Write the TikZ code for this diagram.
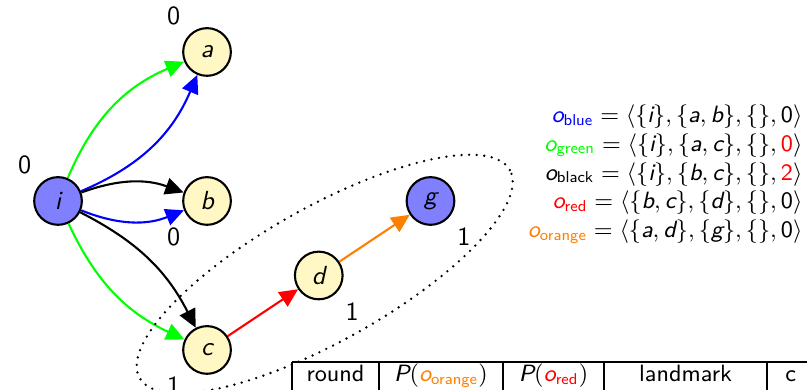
\documentclass[tikz,border=0pt]{standalone}
\usepackage{amsmath}
\usetikzlibrary{arrows.meta,positioning}
\definecolor{stateyellow}{RGB}{255,248,196}
\definecolor{stateblue}{RGB}{128,128,255}
\definecolor{opgreen}{RGB}{0,255,0}
\definecolor{oporange}{RGB}{255,128,0}
\newcommand{\mv}[1]{\text{\sffamily\itshape #1}}
\newcommand{\ms}[1]{\text{\sffamily #1}}
\newcommand{\opname}[2]{\textcolor{#1}{\mv{o}_{\ms{#2}}}}
\tikzset{every label/.style={font=\sffamily},
  state/.style={circle,draw,thick,fill=stateyellow,minimum size=6.4mm,
    inner sep=0pt,font=\sffamily\itshape},
  term/.style={state,fill=stateblue},
  opedge/.style={line width=0.8pt,-{Triangle[length=7pt,width=6.5pt]}},
  groupline/.style={line width=1pt,line cap=round,dash pattern=on 0pt off 2.9pt},
  tabline/.style={line width=0.5pt}}

\begin{document}
\begin{tikzpicture}[x=1cm,y=1cm]
  \useasboundingbox (-0.779,-2.537) rectangle (10.054,2.698);

  % states
  \node[term,label={135:0}] (i) at (0,0) {i};
  \node[state,label={135:0}] (a) at (2,2) {a};
  \node[state,label={225:0}] (b) at (2,0) {b};
  \node[state,label={225:1}] (c) at (2,-2) {c};
  \node[state,label={-45:1}] (d) at (3.5,-1) {d};
  \node[term,label={-45:1}] (g) at (5,0) {g};

  % operators
  \draw[opedge,opgreen] (i) to[bend left=22] (a);
  \draw[opedge,blue] (i) to[bend right=22] (a);
  \draw[opedge] (i) to[bend left=20] (b);
  \draw[opedge,blue] (i) to[bend right=22] (b);
  \draw[opedge] (i) to[bend left=18] (c);
  \draw[opedge,opgreen] (i) to[bend right=20] (c);
  \draw[opedge,red] (c) -- (d);
  \draw[opedge,oporange] (d) -- (g);

  % landmark group
  \coordinate (grp) at (3.58,-0.98);
  \draw[groupline,rotate around={29.3:(grp)}] (grp) ellipse [x radius=2.85,y radius=0.9];

  % operator definitions
  \node[anchor=east,align=right,font=\small,inner sep=0pt] (ops) at (10.0,0.36)
    {$\opname{blue}{blue} = \langle\{\mv{i}\},\{\mv{a},\mv{b}\},\{\},\ms{0}\rangle$\\
     $\opname{opgreen}{green} = \langle\{\mv{i}\},\{\mv{a},\mv{c}\},\{\},\textcolor{red}{\ms{0}}\rangle$\\
     $\opname{black}{black} = \langle\{\mv{i}\},\{\mv{b},\mv{c}\},\{\},\textcolor{red}{\ms{2}}\rangle$\\
     $\opname{red}{red} = \langle\{\mv{b},\mv{c}\},\{\mv{d}\},\{\},\ms{0}\rangle$\\
     $\opname{oporange}{orange} = \langle\{\mv{a},\mv{d}\},\{\mv{g}\},\{\},\ms{0}\rangle$};

  % table header (cut off by the page)
  \coordinate (tl) at (3.141,-2.161);
  \coordinate (tr) at (10.3,-2.161);
  \draw[tabline] (tl) -- (tr);
  \foreach \x in {3.141,4.309,5.973,7.329,9.517}
    \draw[tabline] (\x,-2.161) -- (\x,-2.8);
  \foreach \x/\t [count=\k] in {3.725/round,
      5.141/{$\mv{P}(\opname{oporange}{orange})$},
      6.651/{$\mv{P}(\opname{red}{red})$},
      8.423/landmark}
    \node[anchor=base,font=\sffamily\small] (hd\k) at (\x,-2.43) {\t};
  \node[anchor=base west,font=\sffamily\small,inner sep=0pt] (hd5) at (9.758,-2.43) {c};
\end{tikzpicture}
\end{document}
